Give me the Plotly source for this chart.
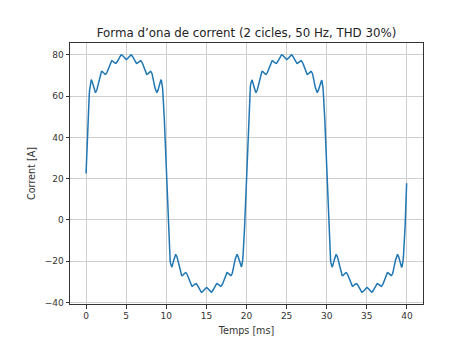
import numpy as np
import plotly.graph_objects as go

# Current spectrum: DC offset plus odd harmonics (sine terms, zero phase)
freq_hz = 50.0
n_cycles = 2
dc_offset_a = 22.5
harmonic_orders = [1, 3, 5, 7, 9, 11, 13, 15]
harmonic_amps_a = [66.0, 14.7, 8.8, 6.3, 4.9, 4.0, 3.4, 2.9]
n_samples = 1000

x_ticks = [0, 5, 10, 15, 20, 25, 30, 35, 40]
y_ticks = [-40, -20, 0, 20, 40, 60, 80]

# Synthesize the waveform from its spectrum
period_s = 1.0 / freq_hz
t = np.linspace(0.0, n_cycles * period_s, n_samples, endpoint=False)
w = 2 * np.pi * freq_hz
i_t = dc_offset_a + sum(a * np.sin(n * w * t) for n, a in zip(harmonic_orders, harmonic_amps_a))
t_ms = t * 1000.0

fund = harmonic_amps_a[0]
thd = np.sqrt(sum(a ** 2 for a in harmonic_amps_a[1:])) / fund

# matplotlib-style 5% data margins
x_span = n_cycles * period_s * 1000.0
x_rng = [0 - 0.05 * x_span, x_span + 0.05 * x_span]
y_min, y_max = float(i_t.min()), float(i_t.max())
y_pad = 0.05 * (y_max - y_min)
y_rng = [y_min - y_pad, y_max + y_pad]

fig = go.Figure()
fig.add_trace(go.Scatter(
    x=t_ms, y=i_t, mode="lines",
    line=dict(color="#1f77b4", width=1.5),
    hoverinfo="skip",
))

font = "DejaVu Sans, Liberation Sans, sans-serif"
axis_common = dict(
    showline=True, mirror=True, linecolor="#333333", linewidth=1,
    showgrid=True, gridcolor="#cfcfcf", gridwidth=1,
    zeroline=False,
    ticks="outside", ticklen=3.5, tickwidth=1, tickcolor="#333333",
    tickfont=dict(family=font, size=9, color="#333333"),
)

fig.update_layout(
    width=450, height=345,
    margin=dict(l=70, r=27, t=43, b=41),
    paper_bgcolor="white", plot_bgcolor="white",
    showlegend=False,
    title=dict(
        text=f"Forma d’ona de corrent ({n_cycles} cicles, {freq_hz:.0f} Hz, THD {thd * 100:.0f}%)",
        x=0.5, xref="paper", xanchor="center",
        y=1 - 33 / 345, yref="container", yanchor="middle",
        font=dict(family=font, size=11.8, color="#222222"),
    ),
    xaxis=dict(
        range=x_rng, tickvals=x_ticks,
        title=dict(text="Temps [ms]", font=dict(family=font, size=9.6, color="#333333"), standoff=6),
        **axis_common,
    ),
    yaxis=dict(
        range=y_rng, tickvals=y_ticks,
        ticktext=[str(v).replace("-", "−") for v in y_ticks],
        title=dict(text="Corrent [A]", font=dict(family=font, size=9.6, color="#333333"), standoff=7),
        **axis_common,
    ),
)

fig.write_html("out.html")
